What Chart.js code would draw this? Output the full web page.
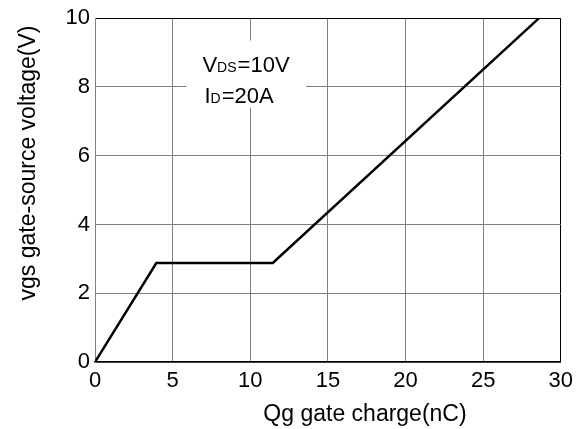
<!DOCTYPE html>
<html>
<head>
<meta charset="utf-8">
<script src="https://cdn.jsdelivr.net/npm/chart.js@4/dist/chart.umd.min.js"></script>
<style>
html,body{margin:0;padding:0;background:#fff;}
#wrap{width:579px;height:429px;}
</style>
</head>
<body>
<div id="wrap"><canvas id="c" width="579" height="429"></canvas></div>
<script>
const charge = [0, 3.95, 11.45, 28.6];
const vgs = [0, 2.88, 2.88, 10];
const xTitle = 'Qg gate charge(nC)';
const yTitle = 'vgs gate-source voltage(V)';
const noteLines = [['V', 'DS', '=10V'], ['I', 'D', '=20A']];

const FONT = '"Liberation Sans", Arial, sans-serif';
const GRID = '#808080';

const overlay = {
  id: 'overlay',
  beforeDatasetsDraw(chart) {
    const {ctx, scales: {x, y}} = chart;
    ctx.save();
    const bx0 = x.getPixelForValue(5.9), bx1 = x.getPixelForValue(13.6);
    const by0 = y.getPixelForValue(9.35), by1 = y.getPixelForValue(7.4);
    ctx.fillStyle = '#fff';
    ctx.fillRect(bx0, by0, bx1 - bx0, by1 - by0);
    ctx.fillStyle = '#000';
    ctx.textBaseline = 'alphabetic';
    ctx.textAlign = 'left';
    const pos = [[6.92, 8.44], [7.05, 7.54]];
    noteLines.forEach((parts, i) => {
      let px = x.getPixelForValue(pos[i][0]);
      const py = y.getPixelForValue(pos[i][1]);
      ctx.font = '22px ' + FONT;
      ctx.fillText(parts[0], px, py);
      px += ctx.measureText(parts[0]).width;
      ctx.font = '14px ' + FONT;
      ctx.fillText(parts[1], px, py);
      px += ctx.measureText(parts[1]).width + 1;
      ctx.font = '22px ' + FONT;
      ctx.fillText(parts[2], px, py);
    });
    ctx.restore();
  },
  afterDraw(chart) {
    const {ctx} = chart;
    ctx.save();
    ctx.fillStyle = '#000';
    ctx.font = '23px ' + FONT;
    ctx.textAlign = 'center';
    ctx.textBaseline = 'alphabetic';
    ctx.fillText(xTitle, 365, 421);
    ctx.translate(35, 163);
    ctx.rotate(-Math.PI / 2);
    ctx.fillText(yTitle, 0, 0);
    ctx.restore();
  }
};

new Chart(document.getElementById('c'), {
  type: 'line',
  data: {
    datasets: [{
      data: charge.map((v, i) => ({x: v, y: vgs[i]})),
      borderColor: '#000',
      borderWidth: 2.5,
      pointRadius: 0,
      tension: 0,
      fill: false
    }]
  },
  options: {
    responsive: false,
    animation: false,
    devicePixelRatio: 1,
    layout: {padding: {top: 16, right: 16, left: 0, bottom: 0}},
    plugins: {legend: {display: false}, tooltip: {enabled: false}},
    scales: {
      x: {
        type: 'linear', min: 0, max: 30,
        ticks: {stepSize: 5, color: '#000', font: {family: FONT, size: 22}, padding: 6, maxRotation: 0},
        grid: {color: c => c.tick && c.tick.value === 30 ? '#000' : GRID, lineWidth: 1, drawTicks: false},
        border: {color: '#000', width: 1.5},
        afterFit(s) { s.height = 67; }
      },
      y: {
        type: 'linear', min: 0, max: 10,
        ticks: {stepSize: 2, color: '#000', font: {family: FONT, size: 22}, padding: 5},
        grid: {color: c => c.tick && c.tick.value === 10 ? '#000' : GRID, lineWidth: 1, drawTicks: false},
        border: {color: GRID, width: 1},
        afterFit(s) { s.width = 95; }
      }
    }
  },
  plugins: [overlay]
});
</script>
</body>
</html>
